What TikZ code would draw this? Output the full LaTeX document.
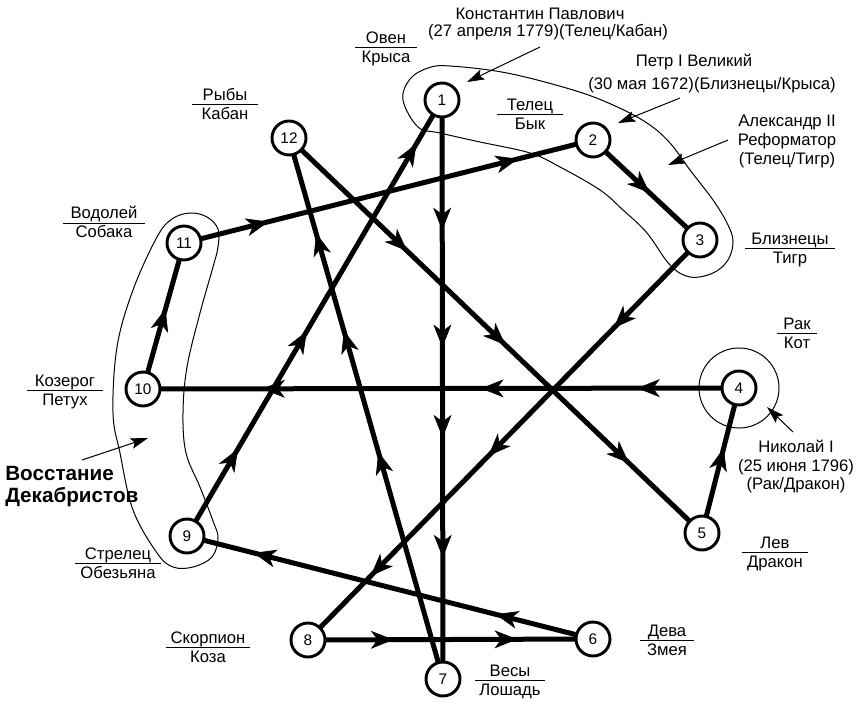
\documentclass[tikz,border=0pt]{standalone}
\usepackage{fontspec}
\setmainfont{Liberation Sans}
\usetikzlibrary{arrows.meta,decorations.markings}
\pgfdeclarelayer{paper}
\pgfdeclarelayer{background}
\pgfsetlayers{paper,background,main}
\tikzset{
 tipA/.tip={Stealth[length=17pt,width=13.5pt,inset=5pt,line width=0.5pt]},
 ptip/.tip={Stealth[length=13pt,width=8pt,inset=2.5pt,line width=0.5pt]},
 num/.style={circle,draw,line width=2.2pt,fill=white,minimum size=25.5pt,inner sep=0pt,font=\fontsize{11.5}{12}\selectfont},
 edge/.style={line width=3.75pt},
 am/.style={postaction={decorate,decoration={markings,mark=at position #1 with {\arrow{tipA}}}}},
 hair/.style={line width=0.75pt},
 lbl/.style={anchor=base,inner sep=0pt,font=\fontsize{12.5}{14}\selectfont},
 big/.style={anchor=base west,inner sep=0pt,font=\fontsize{15.5}{18}\selectfont\bfseries},
 ptr/.style={line width=0.75pt,-{ptip}}
}
\newcommand\zlab[6]{%
 \node[lbl] (#1a) at (#2,#3-4) {#4};
 \node[lbl] (#1b) at (#2,#3+15) {#5};
 \draw[hair] (#2-#6,#3) -- (#2+#6,#3);}
\begin{document}
\begin{tikzpicture}[x=0.75pt,y=-0.75pt]
\useasboundingbox (0,0) rectangle (860,706);
\begin{pgfonlayer}{paper}
\fill[white] (0,0) rectangle (860,706);
\end{pgfonlayer}
% numbered nodes
\node[num] (n1) at (442,100) {1};
\node[num] (n2) at (593,140) {2};
\node[num] (n3) at (700,240) {3};
\node[num] (n4) at (739,388) {4};
\node[num] (n5) at (702,533) {5};
\node[num] (n6) at (593,639) {6};
\node[num] (n7) at (443,679) {7};
\node[num] (n8) at (308,640) {8};
\node[num] (n9) at (187,536) {9};
\node[num] (n10) at (143,389) {10};
\node[num] (n11) at (184,243) {11};
\node[num] (n12) at (289,138) {12};
% connectors
\begin{pgfonlayer}{background}
\draw[edge,am=0.225,am=0.427,am=0.583,am=0.79] (n1.center) -- (n7.center);
\draw[edge,am=0.207,am=0.817] (n11.center) -- (n2.center);
\draw[edge,am=0.2,am=0.47,am=0.9] (n9.center) -- (n1.center);
\draw[edge,am=0.42,am=0.644,am=0.824] (n7.center) -- (n12.center);
\draw[edge,am=0.286,am=0.524,am=0.823] (n12.center) -- (n5.center);
\draw[edge,am=0.22,am=0.54,am=0.84] (n3.center) -- (n8.center);
\draw[edge,am=0.171,am=0.433,am=0.8] (n4.center) -- (n10.center);
\draw[edge,am=0.24,am=0.836] (n6.center) -- (n9.center);
\draw[edge,am=0.3,am=0.734] (n8.center) -- (n6.center);
\draw[edge,am=0.53] (n2.center) -- (n3.center);
\draw[edge,am=0.585] (n5.center) -- (n4.center);
\draw[edge,am=0.55] (n10.center) -- (n11.center);
\end{pgfonlayer}
% thin outlines
\draw[hair] plot[smooth cycle,tension=0.6] coordinates {(403,100) (410,79) (428,68) (450,66) (507,73) (573,90) (613,105) (647,123) (670,143) (690,170) (713,200) (727,223) (733,241) (728,260) (713,273) (690,277) (670,265) (647,233) (623,210) (600,190) (560,167) (530,153) (480,142) (440,133) (418,127)};
\draw[hair] plot[smooth cycle,tension=0.6] coordinates {(190,213) (207,217) (218,229) (218,247) (213,267) (200,313) (187,367) (183,413) (186,453) (200,487) (213,521) (218,538) (212,557) (193,567) (173,567) (157,553) (133,510) (120,453) (113,413) (117,347) (133,290) (157,237) (172,219)};
\draw[hair] (n4.center) circle[radius=40];
% sign labels
\zlab{ari}{386}{48}{Овен}{Крыса}{31}
\zlab{tau}{530}{115}{Телец}{Бык}{33}
\zlab{pis}{225}{105}{Рыбы}{Кабан}{33}
\zlab{aqu}{104}{223}{Водолей}{Собака}{41}
\zlab{cap}{65}{390}{Козерог}{Петух}{38}
\zlab{sag}{118}{563}{Стрелец}{Обезьяна}{43}
\zlab{sco}{208}{647}{Скорпион}{Коза}{42}
\zlab{lib}{510}{680}{Весы}{Лошадь}{35}
\zlab{vir}{667}{640}{Дева}{Змея}{27}
\zlab{leo}{775}{552}{Лев}{Дракон}{33}
\zlab{can}{797}{333}{Рак}{Кот}{20}
\zlab{gem}{790}{248}{Близнецы}{Тигр}{45}
% person texts
\node[lbl] (k1) at (540,20) {Константин Павлович};
\node[lbl] (k2) at (548,37) {(27 апреля 1779)(Телец/Кабан)};
\node[lbl] (p1) at (694,67) {Петр I Великий};
\node[lbl] (p2) at (712,90) {(30 мая 1672)(Близнецы/Крыса)};
\node[lbl] (a1) at (787,127) {Александр II};
\node[lbl] (a2) at (787,146) {Реформатор};
\node[lbl] (a3) at (787,165) {(Телец/Тигр)};
\node[lbl] (ni1) at (796,452) {Николай I};
\node[lbl] (ni2) at (796,471) {(25 июня 1796)};
\node[lbl] (ni3) at (796,489) {(Рак/Дракон)};
\node[big] (v1) at (5,480) {Восстание};
\node[big] (v2) at (5,502) {Декабристов};
% pointers
\coordinate (ks) at (540,47); \coordinate (kt) at (467,82);
\coordinate (ps) at (680,98); \coordinate (pt) at (618,123);
\coordinate (as) at (728,140); \coordinate (at2) at (668,165);
\coordinate (ns) at (793,432); \coordinate (nt) at (767,407);
\coordinate (vs) at (82,460); \coordinate (vt) at (148,438);
\draw[ptr] (ks) -- (kt);
\draw[ptr] (ps) -- (pt);
\draw[ptr] (as) -- (at2);
\draw[ptr] (ns) -- (nt);
\draw[ptr] (vs) -- (vt);
\end{tikzpicture}
\end{document}
